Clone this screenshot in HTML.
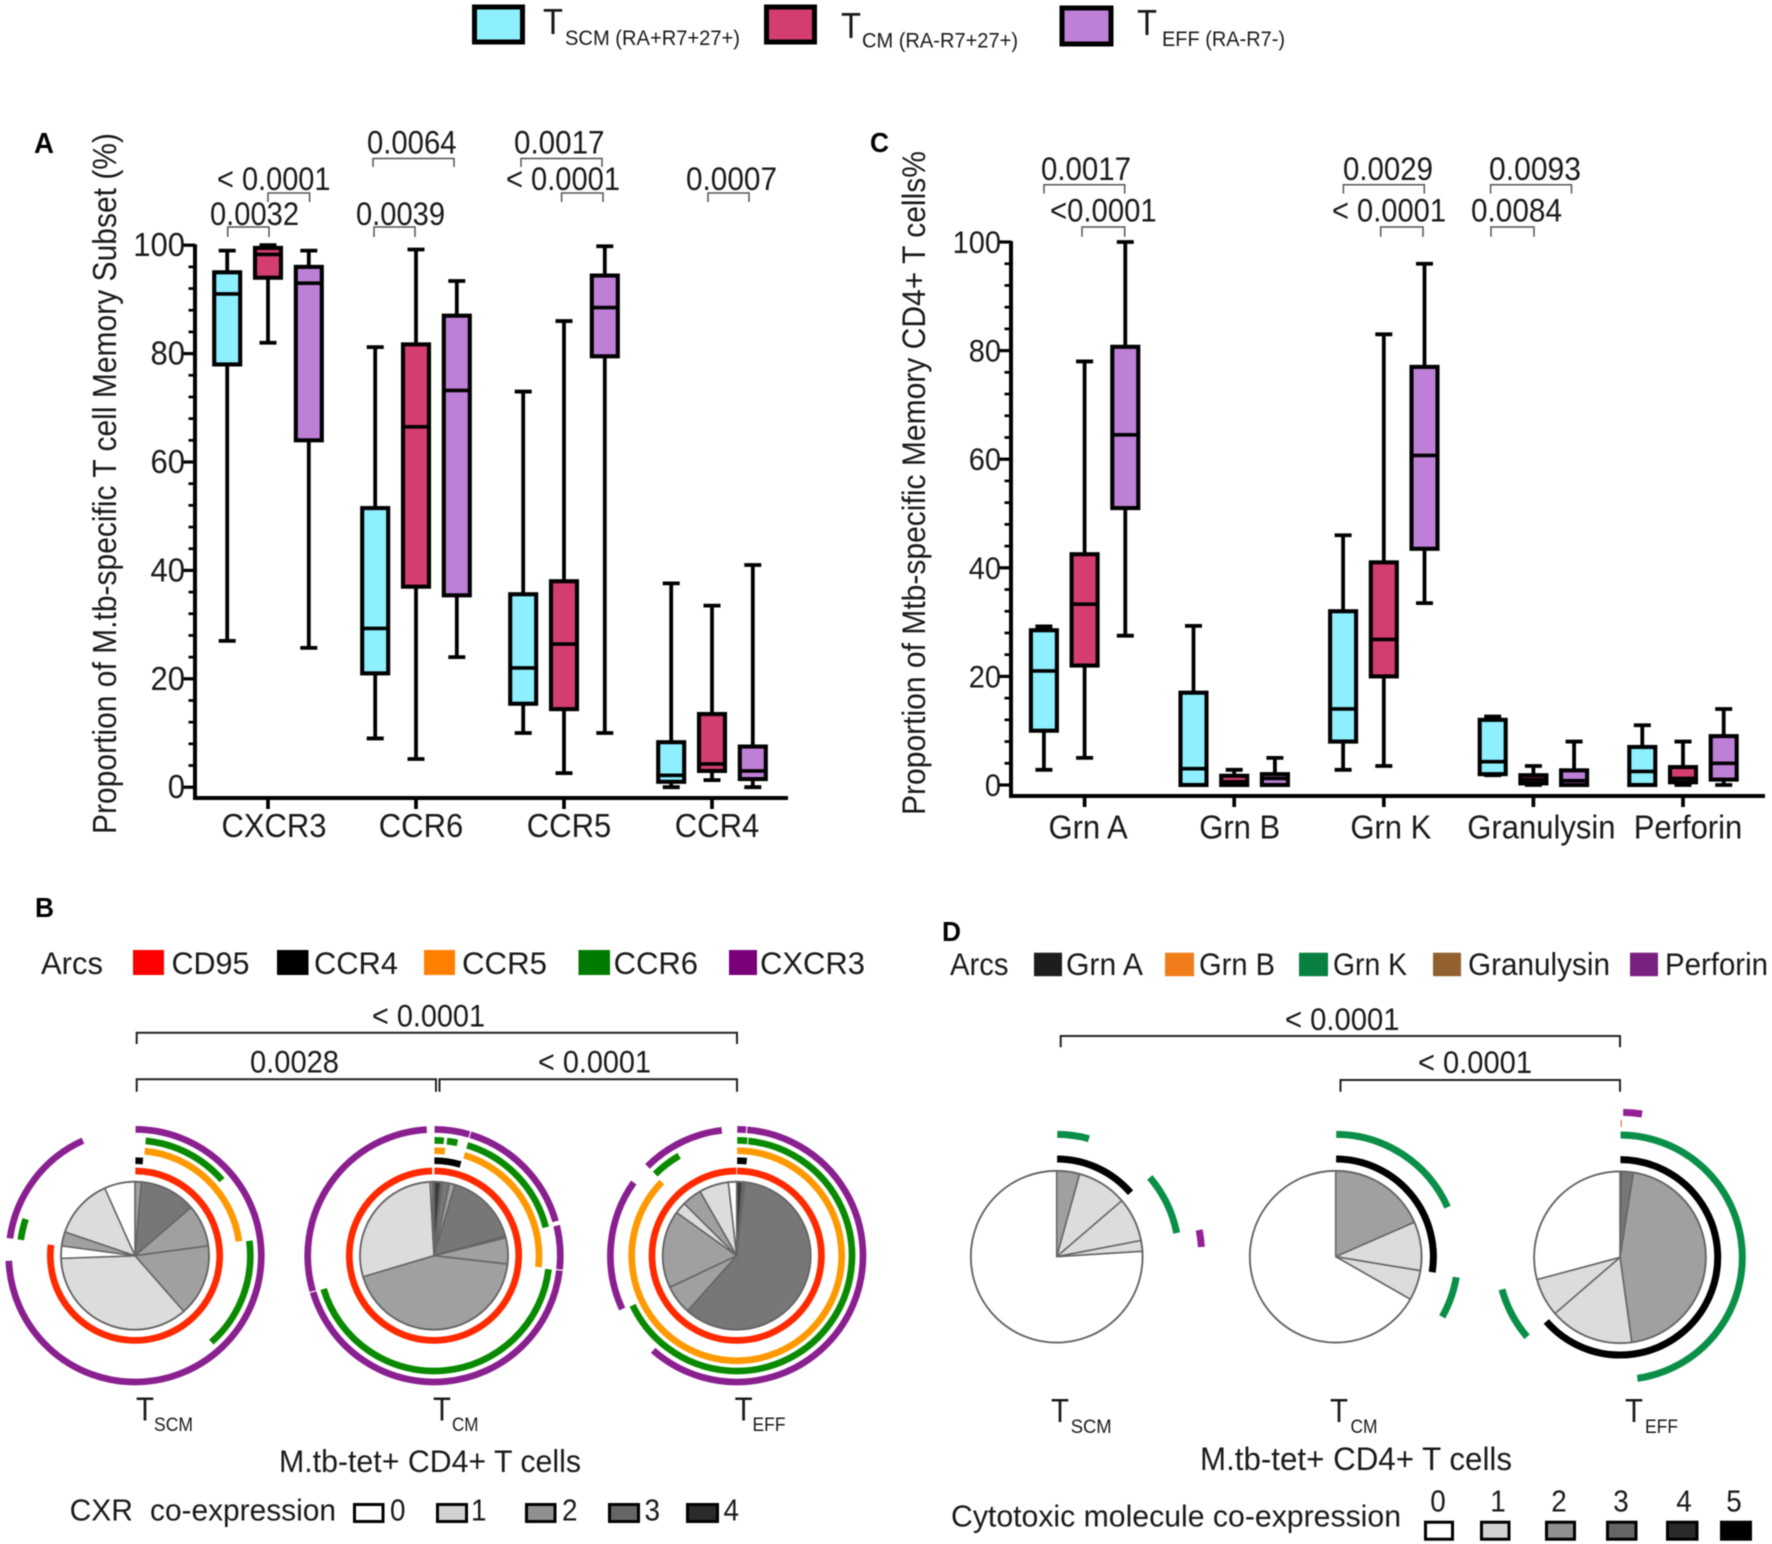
<!DOCTYPE html>
<html lang="en">
<head>
<meta charset="utf-8">
<title>Mtb-specific T cell memory subsets</title>
<style>
html,body{margin:0;padding:0;background:#fff;}
svg{display:block;filter:blur(0.45px);}
text{font-family:"Liberation Sans",Arial,sans-serif;fill:#1a1a1a;}
.b{font-weight:bold;fill:#000;}
.br{fill:none;stroke:#555;stroke-width:1.5;}
.bk{fill:none;stroke:#222;stroke-width:2;}
.lg{stroke:#000;stroke-width:5;}
.sw{stroke:#000;stroke-width:3;}
</style>
</head>
<body>
<svg id="fig" xmlns="http://www.w3.org/2000/svg" width="1772" height="1544" viewBox="0 0 1772 1544">
<rect x="0" y="0" width="1772" height="1544" fill="#fff"/>

<!-- top legend -->
<g>
<rect class="lg" x="474.5" y="7" width="48" height="35" fill="#8eefff"/>
<text x="543" y="34" font-size="36" textLength="20" lengthAdjust="spacingAndGlyphs">T</text>
<text x="565" y="45" font-size="21.5" textLength="175" lengthAdjust="spacingAndGlyphs">SCM (RA+R7+27+)</text>
<rect class="lg" x="766.5" y="7" width="48" height="35" fill="#d43d70"/>
<text x="841" y="38" font-size="36" textLength="20" lengthAdjust="spacingAndGlyphs">T</text>
<text x="862" y="47.5" font-size="21.5" textLength="156" lengthAdjust="spacingAndGlyphs">CM (RA-R7+27+)</text>
<rect class="lg" x="1062" y="8" width="49" height="36" fill="#be7fd6"/>
<text x="1137" y="35" font-size="36" textLength="20" lengthAdjust="spacingAndGlyphs">T</text>
<text x="1162" y="46" font-size="21.5" textLength="123" lengthAdjust="spacingAndGlyphs">EFF (RA-R7-)</text>
</g>

<!-- panel letters -->
<text class="b" x="34" y="153" font-size="29" textLength="20" lengthAdjust="spacingAndGlyphs">A</text>
<text class="b" x="870" y="152" font-size="28" textLength="19" lengthAdjust="spacingAndGlyphs">C</text>
<text class="b" x="35" y="917" font-size="28" textLength="19" lengthAdjust="spacingAndGlyphs">B</text>
<text class="b" x="942" y="941" font-size="28" textLength="19" lengthAdjust="spacingAndGlyphs">D</text>

<!-- panel A titles and p values -->
<text transform="translate(116,834) rotate(-90)" font-size="33" textLength="701" lengthAdjust="spacingAndGlyphs">Proportion of M.tb-specific T cell Memory Subset (%)</text>
<g font-size="32.5">
<path class="br" d="M227.7 237V227H269V237"/>
<text x="210" y="225" textLength="89" lengthAdjust="spacingAndGlyphs">0.0032</text>
<path class="br" d="M268 202V193H309.6V202"/>
<text x="217" y="190" textLength="113.5" lengthAdjust="spacingAndGlyphs">&lt; 0.0001</text>
<path class="br" d="M373 167V158.5H454V167"/>
<text x="367" y="153.6" textLength="89.5" lengthAdjust="spacingAndGlyphs">0.0064</text>
<path class="br" d="M374 237V227H415V237"/>
<text x="356" y="225" textLength="89" lengthAdjust="spacingAndGlyphs">0.0039</text>
<path class="br" d="M521 167V158.5H602V167"/>
<text x="514" y="153.6" textLength="90.5" lengthAdjust="spacingAndGlyphs">0.0017</text>
<path class="br" d="M561.6 202V193H603V202"/>
<text x="506" y="190" textLength="114" lengthAdjust="spacingAndGlyphs">&lt; 0.0001</text>
<path class="br" d="M708 202V193H749V202"/>
<text x="686" y="190" textLength="91" lengthAdjust="spacingAndGlyphs">0.0007</text>
</g>

<!-- panel C titles and p values -->
<text transform="translate(925,815) rotate(-90)" font-size="32" textLength="664" lengthAdjust="spacingAndGlyphs">Proportion of Mtb-specific Memory CD4+ T cells%</text>
<g font-size="32.5">
<path class="br" d="M1044 193.6V184.8H1124.7V193.6"/>
<text x="1041" y="180" textLength="90" lengthAdjust="spacingAndGlyphs">0.0017</text>
<path class="br" d="M1082 236.7V227H1124.7V236.7"/>
<text x="1050" y="221.5" textLength="106.7" lengthAdjust="spacingAndGlyphs">&lt;0.0001</text>
<path class="br" d="M1343.4 193.6V184.8H1424.3V193.6"/>
<text x="1343" y="180" textLength="90" lengthAdjust="spacingAndGlyphs">0.0029</text>
<path class="br" d="M1380.7 236.7V227H1423V236.7"/>
<text x="1332" y="221.5" textLength="114" lengthAdjust="spacingAndGlyphs">&lt; 0.0001</text>
<path class="br" d="M1490.6 193.6V184.8H1571.5V193.6"/>
<text x="1489" y="180" textLength="92" lengthAdjust="spacingAndGlyphs">0.0093</text>
<path class="br" d="M1491 236.7V227H1534V236.7"/>
<text x="1471" y="221.5" textLength="91" lengthAdjust="spacingAndGlyphs">0.0084</text>
</g>

<!-- panel B legend and brackets -->
<g font-size="31.5">
<text x="41" y="974" textLength="62" lengthAdjust="spacingAndGlyphs">Arcs</text>
<rect x="133" y="950" width="31" height="25" fill="#ff0000"/>
<text x="171.5" y="974" textLength="78" lengthAdjust="spacingAndGlyphs">CD95</text>
<rect x="277" y="950" width="31.5" height="25" fill="#000"/>
<text x="314" y="974" textLength="84" lengthAdjust="spacingAndGlyphs">CCR4</text>
<rect x="424" y="950" width="31" height="25" fill="#ff8000"/>
<text x="462" y="974" textLength="85" lengthAdjust="spacingAndGlyphs">CCR5</text>
<rect x="578.5" y="950" width="31.5" height="25" fill="#007a00"/>
<text x="613.6" y="974" textLength="84.4" lengthAdjust="spacingAndGlyphs">CCR6</text>
<rect x="729" y="950" width="28" height="25" fill="#7a007a"/>
<text x="760" y="974" textLength="105" lengthAdjust="spacingAndGlyphs">CXCR3</text>
</g>
<g font-size="31.5">
<path class="bk" d="M136.7 1044V1032.7H737V1044"/>
<text x="372" y="1026.7" textLength="113" lengthAdjust="spacingAndGlyphs">&lt; 0.0001</text>
<path class="bk" d="M136.7 1091.7V1079.3H436V1091.7"/>
<text x="250" y="1072.7" textLength="89" lengthAdjust="spacingAndGlyphs">0.0028</text>
<path class="bk" d="M439.5 1091.7V1079.3H737V1091.7"/>
<text x="538" y="1072.7" textLength="113" lengthAdjust="spacingAndGlyphs">&lt; 0.0001</text>
</g>

<!-- panel D legend and brackets -->
<g font-size="31.5">
<text x="950" y="975" textLength="58.5" lengthAdjust="spacingAndGlyphs">Arcs</text>
<rect x="1034" y="952.7" width="28" height="23.5" fill="#1d1d1b"/>
<text x="1066" y="975" textLength="77" lengthAdjust="spacingAndGlyphs">Grn A</text>
<rect x="1165" y="952.7" width="29" height="23.5" fill="#f07c1a"/>
<text x="1199" y="975" textLength="76" lengthAdjust="spacingAndGlyphs">Grn B</text>
<rect x="1299" y="952.7" width="29" height="23.5" fill="#0a8040"/>
<text x="1333" y="975" textLength="74" lengthAdjust="spacingAndGlyphs">Grn K</text>
<rect x="1433" y="952.7" width="28" height="23.5" fill="#936030"/>
<text x="1468" y="975" textLength="142" lengthAdjust="spacingAndGlyphs">Granulysin</text>
<rect x="1630" y="952.7" width="28" height="23.5" fill="#7a2080"/>
<text x="1665" y="975" textLength="103" lengthAdjust="spacingAndGlyphs">Perforin</text>
</g>
<g font-size="31.5">
<path class="bk" d="M1060.7 1047.3V1036H1620V1047.3"/>
<text x="1285" y="1030" textLength="114.5" lengthAdjust="spacingAndGlyphs">&lt; 0.0001</text>
<path class="bk" d="M1340.5 1091.7V1080H1620V1091.7"/>
<text x="1418" y="1073" textLength="114" lengthAdjust="spacingAndGlyphs">&lt; 0.0001</text>
</g>

<!-- pie captions -->
<g>
<text x="136" y="1420.7" font-size="33" textLength="18" lengthAdjust="spacingAndGlyphs">T</text>
<text x="154" y="1431" font-size="19.5" textLength="39" lengthAdjust="spacingAndGlyphs">SCM</text>
<text x="433" y="1420.7" font-size="33" textLength="18" lengthAdjust="spacingAndGlyphs">T</text>
<text x="452" y="1431" font-size="19.5" textLength="26.5" lengthAdjust="spacingAndGlyphs">CM</text>
<text x="734.6" y="1420.7" font-size="33" textLength="18" lengthAdjust="spacingAndGlyphs">T</text>
<text x="752.5" y="1431" font-size="19.5" textLength="33" lengthAdjust="spacingAndGlyphs">EFF</text>
<text x="279" y="1472" font-size="31.5" textLength="302" lengthAdjust="spacingAndGlyphs">M.tb-tet+ CD4+ T cells</text>
</g>
<g>
<text x="1051" y="1422" font-size="33" textLength="18" lengthAdjust="spacingAndGlyphs">T</text>
<text x="1070.7" y="1433" font-size="19.5" textLength="41" lengthAdjust="spacingAndGlyphs">SCM</text>
<text x="1330" y="1422" font-size="33" textLength="18" lengthAdjust="spacingAndGlyphs">T</text>
<text x="1350.5" y="1433" font-size="19.5" textLength="27" lengthAdjust="spacingAndGlyphs">CM</text>
<text x="1625" y="1422" font-size="33" textLength="18" lengthAdjust="spacingAndGlyphs">T</text>
<text x="1645" y="1433" font-size="19.5" textLength="33" lengthAdjust="spacingAndGlyphs">EFF</text>
<text x="1200" y="1470" font-size="32" textLength="312" lengthAdjust="spacingAndGlyphs">M.tb-tet+ CD4+ T cells</text>
</g>

<!-- co-expression legends -->
<g font-size="31">
<text x="69.6" y="1520.7" textLength="63.4" lengthAdjust="spacingAndGlyphs">CXR</text>
<text x="150" y="1520.7" textLength="186" lengthAdjust="spacingAndGlyphs">co-expression</text>
<rect class="sw" x="354.5" y="1504.5" width="28.5" height="17" fill="#fff"/>
<text x="390" y="1520.7" textLength="15.5" lengthAdjust="spacingAndGlyphs">0</text>
<rect class="sw" x="437.5" y="1504.5" width="29" height="17" fill="#d2d2d2"/>
<text x="471" y="1520.7" textLength="15.5" lengthAdjust="spacingAndGlyphs">1</text>
<rect class="sw" x="526.5" y="1504.5" width="28.5" height="17" fill="#909090"/>
<text x="562" y="1520.7" textLength="15.5" lengthAdjust="spacingAndGlyphs">2</text>
<rect class="sw" x="609.5" y="1504.5" width="29" height="17" fill="#666"/>
<text x="644.5" y="1520.7" textLength="15.5" lengthAdjust="spacingAndGlyphs">3</text>
<rect class="sw" x="687.5" y="1504.5" width="30" height="17" fill="#2a2a2a"/>
<text x="723.5" y="1520.7" textLength="15.5" lengthAdjust="spacingAndGlyphs">4</text>
</g>
<g font-size="31">
<text x="951" y="1526.7" textLength="450" lengthAdjust="spacingAndGlyphs">Cytotoxic molecule co-expression</text>
<rect class="sw" x="1425.5" y="1522.2" width="27" height="17" fill="#fff"/>
<text x="1438" y="1511.7" text-anchor="middle" textLength="15.5" lengthAdjust="spacingAndGlyphs">0</text>
<rect class="sw" x="1481.5" y="1522.2" width="27.5" height="17" fill="#d2d2d2"/>
<text x="1498" y="1511.7" text-anchor="middle" textLength="15.5" lengthAdjust="spacingAndGlyphs">1</text>
<rect class="sw" x="1546.5" y="1522.2" width="28" height="17" fill="#909090"/>
<text x="1559" y="1511.7" text-anchor="middle" textLength="15.5" lengthAdjust="spacingAndGlyphs">2</text>
<rect class="sw" x="1607.5" y="1522.2" width="28.5" height="17" fill="#666"/>
<text x="1621" y="1511.7" text-anchor="middle" textLength="15.5" lengthAdjust="spacingAndGlyphs">3</text>
<rect class="sw" x="1667.5" y="1522.2" width="29.5" height="17" fill="#2a2a2a"/>
<text x="1684" y="1511.7" text-anchor="middle" textLength="15.5" lengthAdjust="spacingAndGlyphs">4</text>
<rect class="sw" x="1721.5" y="1522.2" width="29" height="17" fill="#000"/>
<text x="1734" y="1511.7" text-anchor="middle" textLength="15.5" lengthAdjust="spacingAndGlyphs">5</text>
</g>

<g id="panelA"></g>
<g id="panelC"></g>
<g id="panelB"></g>
<g id="panelD"></g>
</svg>

<script>
// ---- Box plot data: [whisker low, Q1, median, Q3, whisker high] per category ----
const yTickLabels = [0, 20, 40, 60, 80, 100];
const minorTickStep = 4;

const categoriesA = ['CXCR3', 'CCR6', 'CCR5', 'CCR4'];
const scmA = [[27, 78, 91, 95, 99], [9, 21, 29.3, 51.5, 81.2], [10, 15.4, 22, 35.6, 73], [0, 1, 2.2, 8.3, 37.6]];
const cmA  = [[82, 94, 98.3, 99.5, 100], [5.2, 37, 66.5, 81.7, 99.2], [2.6, 14.4, 26.4, 38, 86], [1.3, 3, 4.3, 13.5, 33.5]];
const effA = [[25.7, 64, 93, 96, 99], [24, 35.4, 73.2, 87, 93.4], [10, 79.5, 88.5, 94.4, 99.8], [0, 1.5, 3, 7.5, 41]];

const categoriesC = ['Grn A', 'Grn B', 'Grn K', 'Granulysin', 'Perforin'];
const scmC = [[2.8, 10, 21, 28.5, 29.2], [0, 0, 3, 17, 29.3], [2.8, 8, 14, 32, 46], [1.8, 2, 4.3, 12, 12.6], [0, 0, 2.5, 7, 11]];
const cmC  = [[5, 22, 33.3, 42.5, 78], [0, 0, 0.6, 1.7, 2.8], [3.5, 20, 26.8, 41, 83], [0, 0.3, 1, 1.8, 3.5], [0, 0.5, 1.2, 3.3, 8]];
const effC = [[27.5, 51, 64.5, 80.7, 100], [0, 0, 1.2, 2, 5], [33.5, 43.5, 60.7, 77, 96], [0, 0, 0.8, 2.7, 8], [0, 1, 4, 9, 14]];

// ---- Pie data: slice share (%) and co-expression level per slice ----
const bScmShare = [1.4, 12.3, 9.2, 15.7, 35.9, 2.7, 3.1, 13.1, 6.7];
const bScmLevel = [2, 3, 2, 2, 1, 0, 2, 1, 0];
const bCmShare  = [1.44, 0.28, 1.61, 1.25, 16.11, 0.42, 5.69, 43.61, 28.75, 0.56, 0.28];
const bCmLevel  = [4, 3, 3, 2, 3, 2, 2, 2, 1, 2, 3];
const bEffShare = [1.25, 0.28, 0.22, 59.83, 6.42, 16.92, 2.53, 4.31, 6.44, 1.81];
const bEffLevel = [4, 3, 3, 3, 2, 2, 1, 2, 1, 0];

const dScmShare = [4.31, 9.39, 8.28, 2.03, 76.0];
const dScmLevel = [2, 1, 1, 1, 0];
const dCmShare  = [18.44, 9.17, 5.64, 66.75];
const dCmLevel  = [2, 1, 1, 0];
const dEffShare = [0.28, 2.22, 45.31, 15.86, 7.17, 29.17];
const dEffLevel = [3, 3, 2, 1, 1, 0];

// ---- Arc membership: runs of slices [first, last] positive for each marker ----
const bScmCd95 = [[0, 5]], bScmCcr4 = [[0, 0]], bScmCcr5 = [[1, 2]], bScmCcr6 = [[1, 1], [3, 3], [6, 6]], bScmCxcr3 = [[0, 4], [6, 7]];
const bCmCd95 = [[0, 9]], bCmCcr4 = [[0, 3]], bCmCcr5 = [[0, 1], [4, 6]], bCmCcr6 = [[0, 0], [2, 2], [4, 5], [7, 7]], bCmCxcr3 = [[0, 3], [4, 4], [6, 6], [7, 7], [8, 8]];
const bEffCd95 = [[0, 9]], bEffCcr4 = [[0, 2]], bEffCcr5 = [[0, 6]], bEffCcr6 = [[0, 1], [2, 4], [7, 7]], bEffCxcr3 = [[0, 0], [1, 3], [5, 5], [7, 8]];

const dScmGrnA = [[0, 1]], dScmGrnK = [[0, 0], [2, 2]], dScmGranulysin = [], dScmPerforin = [[3, 3]];
const dCmGrnA = [[0, 1]], dCmGrnK = [[0, 0], [2, 2]], dCmGranulysin = [], dCmPerforin = [];
const dEffGrnA = [[0, 3]], dEffGrnK = [[0, 2], [4, 4]], dEffGranulysin = [[0, 0]], dEffPerforin = [[1, 1]];

// ---- helpers ----
const NS = 'http://www.w3.org/2000/svg';
function make(tag, parent, props) {
  const el = document.createElementNS(NS, tag);
  for (const k in props) el.setAttribute(k, props[k]);
  parent.appendChild(el);
  return el;
}

// Keep a label's measured width while drawing the glyphs taller, as in the reference.
function condense(el, base, tall) {
  el.setAttribute('font-size', base);
  const w = el.getComputedTextLength();
  el.setAttribute('textLength', w);
  el.setAttribute('lengthAdjust', 'spacingAndGlyphs');
  el.setAttribute('font-size', tall);
}

// ---- axis functions ----
function yScaleA(v) { return 787.2 - v * 5.42; }
function xScaleA(i, s) { return 268 + i * 148 + (s - 1) * 40.8; }
function yScaleC(v) { return 785 - v * 5.43; }
function xScaleC(i, s) { return 1084.6 + i * 149.6 + (s - 1) * 40.7; }

const BOX_FILLS = ['#8eefff', '#d43d70', '#be7fd6'];
const SERIES_NAMES = ['tscm', 'tcm', 'teff'];

function drawAxes(g, o) {
  const yTop = o.y(100);
  const yLine = make('line', g, {x1: o.axisX, x2: o.axisX, y1: yTop - 1, y2: o.axisY + 2, stroke: '#000', 'stroke-width': 4});
  
  
  const xLine = make('line', g, {x1: o.axisX, x2: o.axisEnd, y1: o.axisY, y2: o.axisY, stroke: '#000', 'stroke-width': 4});
  
  
  for (let v = 0; v <= 100; v += minorTickStep) {
    const minor = make('line', g, {x1: o.axisX - 6.5, x2: o.axisX, y1: o.y(v), y2: o.y(v), stroke: '#000', 'stroke-width': 2.7});
    
    
  }
  yTickLabels.forEach(function (v) {
    const tick = make('line', g, {x1: o.axisX - 13, x2: o.axisX, y1: o.y(v), y2: o.y(v), stroke: '#000', 'stroke-width': 3.2});
    
    
    const label = make('text', g, {x: o.labelX, y: o.y(v) + o.labelDy, 'text-anchor': 'end', 'font-size': o.fontSize});
    
    
    label.textContent = v;
    condense(label, o.fontSize, o.fontSize * 1.08);
  });
  o.categories.forEach(function (c, i) {
    const tx = o.x(i, 1);
    const tick = make('line', g, {x1: tx, x2: tx, y1: o.axisY, y2: o.axisY + 11, stroke: '#000', 'stroke-width': 3.7});
    
    
    const label = make('text', g, {x: tx + o.catDx[i], y: o.catY, 'text-anchor': 'middle', 'font-size': 31});
    
    
    label.textContent = c;
    condense(label, 31, 33.5);
  });
}

function drawBox(g, cx, d, fill, y, name) {
  const lo = d[0], q1 = d[1], med = d[2], q3 = d[3], hi = d[4];
  const group = make('g', g, {});
  
  
  const stem = make('line', group, {x1: cx, x2: cx, y1: y(lo), y2: y(hi), stroke: '#000', 'stroke-width': 3.8});
  
  
  const capLo = make('line', group, {x1: cx - 8.5, x2: cx + 8.5, y1: y(lo), y2: y(lo), stroke: '#000', 'stroke-width': 3.8});
  
  
  const capHi = make('line', group, {x1: cx - 8.5, x2: cx + 8.5, y1: y(hi), y2: y(hi), stroke: '#000', 'stroke-width': 3.8});
  
  
  const box = make('rect', group, {x: cx - 13, width: 26, y: y(q3), height: y(q1) - y(q3), fill: fill, stroke: '#000', 'stroke-width': 4.1});
  
  
  const m = make('line', group, {x1: cx - 13, x2: cx + 13, y1: y(med), y2: y(med), stroke: '#000', 'stroke-width': 3.6});
  
  
}

function drawBoxPanel(g, o, seriesList) {
  drawAxes(g, o);
  seriesList.forEach(function (series, s) {
    series.forEach(function (d, i) {
      drawBox(g, o.x(i, s), d, BOX_FILLS[s], o.y, 'box-' + o.categories[i].toLowerCase().replace(/\s+/g, '-') + '-' + SERIES_NAMES[s]);
    });
  });
}

drawBoxPanel(document.getElementById('panelA'), {
  x: xScaleA, y: yScaleA, axisX: 195, axisY: 798, axisEnd: 788, labelX: 185, labelDy: 11,
  fontSize: 31, categories: categoriesA, catDx: [6, 5, 5, 5], catY: 837
}, [scmA, cmA, effA]);

drawBoxPanel(document.getElementById('panelC'), {
  x: xScaleC, y: yScaleC, axisX: 1011, axisY: 796, axisEnd: 1765, labelX: 1001, labelDy: 11,
  fontSize: 29, categories: categoriesC, catDx: [3.5, 5.5, 7, 8, 5], catY: 838.5
}, [scmC, cmC, effC]);

// ---- pies and arcs ----
const GREY_LEVELS = ['#ffffff', '#dcdcdc', '#a0a0a0', '#777777', '#3c3c3c', '#000000'];

function polar(c, r, deg) {
  const t = deg * Math.PI / 180;
  return [c[0] + r * Math.sin(t), c[1] - r * Math.cos(t)];
}

function boundaries(shares) {
  const total = shares.reduce(function (a, b) { return a + b; }, 0);
  const out = [0];
  let run = 0;
  shares.forEach(function (v) { run += v; out.push(run / total * 360); });
  return out;
}

function drawPie(g, c, r, shares, levels) {
  const bounds = boundaries(shares);
  shares.forEach(function (v, i) {
    const a0 = bounds[i], a1 = bounds[i + 1];
    const p0 = polar(c, r, a0), p1 = polar(c, r, a1);
    const d = 'M' + c[0] + ' ' + c[1] + 'L' + p0[0] + ' ' + p0[1] + 'A' + r + ' ' + r + ' 0 ' + (a1 - a0 > 180 ? 1 : 0) + ' 1 ' + p1[0] + ' ' + p1[1] + 'Z';
    const slice = make('path', g, {d: d, fill: GREY_LEVELS[levels[i]], stroke: '#666', 'stroke-width': 1.6, 'stroke-linejoin': 'round'});
    
    
  });
  const rim = make('circle', g, {cx: c[0], cy: c[1], r: r, fill: 'none', stroke: '#666', 'stroke-width': 1.8});
  
  
}

function drawArcs(g, c, shares, runs, r, colour, width, name) {
  const bounds = boundaries(shares);
  runs.forEach(function (run) {
    const a0 = bounds[run[0]] + 0.25, a1 = bounds[run[1] + 1] - 0.25;
    const p0 = polar(c, r, a0), p1 = polar(c, r, a1);
    const d = 'M' + p0[0] + ' ' + p0[1] + 'A' + r + ' ' + r + ' 0 ' + (a1 - a0 > 180 ? 1 : 0) + ' 1 ' + p1[0] + ' ' + p1[1];
    const arc = make('path', g, {d: d, fill: 'none', stroke: colour, 'stroke-width': width});
    
    
  });
}

function drawCircosB(g, c, shares, levels, cd95, ccr4, ccr5, ccr6, cxcr3, name) {
  const group = make('g', g, {});
  
  
  drawPie(group, c, 74, shares, levels);
  drawArcs(group, c, shares, cd95, 84.7, '#ff2a00', 6.7, 'arc-cd95');
  drawArcs(group, c, shares, ccr4, 95, '#000000', 6.7, 'arc-ccr4');
  drawArcs(group, c, shares, ccr5, 105, '#ff9900', 6.7, 'arc-ccr5');
  drawArcs(group, c, shares, ccr6, 115.3, '#0a8a00', 6.7, 'arc-ccr6');
  drawArcs(group, c, shares, cxcr3, 126.3, '#8a2090', 6.7, 'arc-cxcr3');
}

function drawCircosD(g, c, shares, levels, grnA, grnK, granulysin, perforin, name) {
  const group = make('g', g, {});
  
  
  drawPie(group, c, 85.9, shares, levels);
  drawArcs(group, c, shares, grnA, 97.7, '#000000', 7, 'arc-grn-a');
  drawArcs(group, c, shares, grnK, 122.3, '#0a8f48', 7, 'arc-grn-k');
  drawArcs(group, c, shares, granulysin, 134, '#c08040', 7, 'arc-granulysin');
  drawArcs(group, c, shares, perforin, 145, '#952095', 7, 'arc-perforin');
}

const gB = document.getElementById('panelB');
drawCircosB(gB, [135, 1255.7], bScmShare, bScmLevel, bScmCd95, bScmCcr4, bScmCcr5, bScmCcr6, bScmCxcr3, 'pie-b-tscm');
drawCircosB(gB, [434, 1255.7], bCmShare, bCmLevel, bCmCd95, bCmCcr4, bCmCcr5, bCmCcr6, bCmCxcr3, 'pie-b-tcm');
drawCircosB(gB, [736.7, 1255.7], bEffShare, bEffLevel, bEffCd95, bEffCcr4, bEffCcr5, bEffCcr6, bEffCxcr3, 'pie-b-teff');

const gD = document.getElementById('panelD');
drawCircosD(gD, [1056.7, 1256.7], dScmShare, dScmLevel, dScmGrnA, dScmGrnK, dScmGranulysin, dScmPerforin, 'pie-d-tscm');
drawCircosD(gD, [1335.7, 1256.7], dCmShare, dCmLevel, dCmGrnA, dCmGrnK, dCmGranulysin, dCmPerforin, 'pie-d-tcm');
drawCircosD(gD, [1620, 1257.3], dEffShare, dEffLevel, dEffGrnA, dEffGrnK, dEffGranulysin, dEffPerforin, 'pie-d-teff');
</script>
</body>
</html>
